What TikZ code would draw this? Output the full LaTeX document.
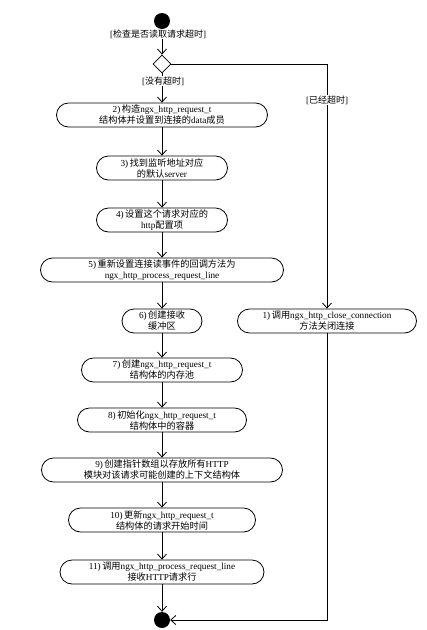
\documentclass[tikz,border=0pt]{standalone}
\usepackage{fontspec}
\setmainfont{Liberation Serif}
\newfontfamily\cjk{Noto Sans CJK SC}
\usetikzlibrary{arrows.meta,shapes.geometric}
\newcommand{\zh}[1]{{\cjk #1}}
\begin{document}
\begin{tikzpicture}[x=1pt,y=-1pt,
 act/.style={draw,line width=0.8pt,rounded corners=12pt,minimum height=24pt,inner sep=0pt,align=center,font=\fontsize{9.2}{11}\selectfont},
 flow/.style={draw,line width=0.8pt,-{Straight Barb[length=5pt,width=9pt]}},
 lbl/.style={fill=white,inner sep=1pt,font=\fontsize{9}{11}\selectfont},
 dot/.style={circle,fill=black,minimum size=16pt,inner sep=0pt}]
\useasboundingbox (0,0) rectangle (427,630);
\node[dot] (start) at (162,21) {};
\node[diamond,aspect=1,draw,line width=0.8pt,minimum width=18pt,minimum height=18pt,inner sep=0pt] (dec) at (162,64) {};
\node[act,minimum width=211pt] (n2) at (162,115) {2)\,\zh{构造}ngx\_http\_request\_t\\\zh{结构体并设置到连接的}data\zh{成员}};
\node[act,minimum width=131pt] (n3) at (162,168) {3)\,\zh{找到监听地址对应}\\\zh{的默认}server};
\node[act,minimum width=131pt] (n4) at (162,220) {4)\,\zh{设置这个请求对应的}\\http\zh{配置项}};
\node[act,minimum width=243pt] (n5) at (162,270) {5)\,\zh{重新设置连接读事件的回调方法为}\\ngx\_http\_process\_request\_line};
\node[act,minimum width=80pt] (n6) at (162,321) {6)\,\zh{创建接收}\\\zh{缓冲区}};
\node[act,minimum width=179pt] (n1) at (327,321) {1)\,\zh{调用}ngx\_http\_close\_connection\\\zh{方法关闭连接}};
\node[act,minimum width=161pt] (n7) at (162,370) {7)\,\zh{创建}ngx\_http\_request\_t\\\zh{结构体的内存池}};
\node[act,minimum width=169pt] (n8) at (162,420) {8)\,\zh{初始化}ngx\_http\_request\_t\\\zh{结构体中的容器}};
\node[act,minimum width=241pt] (n9) at (162,470) {9)\,\zh{创建指针数组以存放所有}HTTP\\\zh{模块对该请求可能创建的上下文结构体}};
\node[act,minimum width=187pt] (n10) at (162,520) {10)\,\zh{更新}ngx\_http\_request\_t\\\zh{结构体的请求开始时间}};
\node[act,minimum width=204pt] (n11) at (162,572) {11)\,\zh{调用}ngx\_http\_process\_request\_line\\\zh{接收}HTTP\zh{请求行}};
\node[dot] (end) at (162,620) {};
\draw[flow] (start) -- (dec);
\draw[flow] (dec) -- (n2);
\draw[flow] (n2) -- (n3);
\draw[flow] (n3) -- (n4);
\draw[flow] (n4) -- (n5);
\draw[flow] (n5) -- (n6);
\draw[flow] (n6) -- (n7);
\draw[flow] (n7) -- (n8);
\draw[flow] (n8) -- (n9);
\draw[flow] (n9) -- (n10);
\draw[flow] (n10) -- (n11);
\draw[flow] (n11) -- (end);
\draw[flow] (dec.east) -| (n1.north);
\draw[flow] (n1.south) |- (end.east);
\node[lbl] (l1) at (158,34) {[\zh{检查是否读取请求超时}]};
\node[lbl] (l2) at (163,81) {[\zh{没有超时}]};
\node[lbl] (l3) at (327,100) {[\zh{已经超时}]};
\end{tikzpicture}
\end{document}
